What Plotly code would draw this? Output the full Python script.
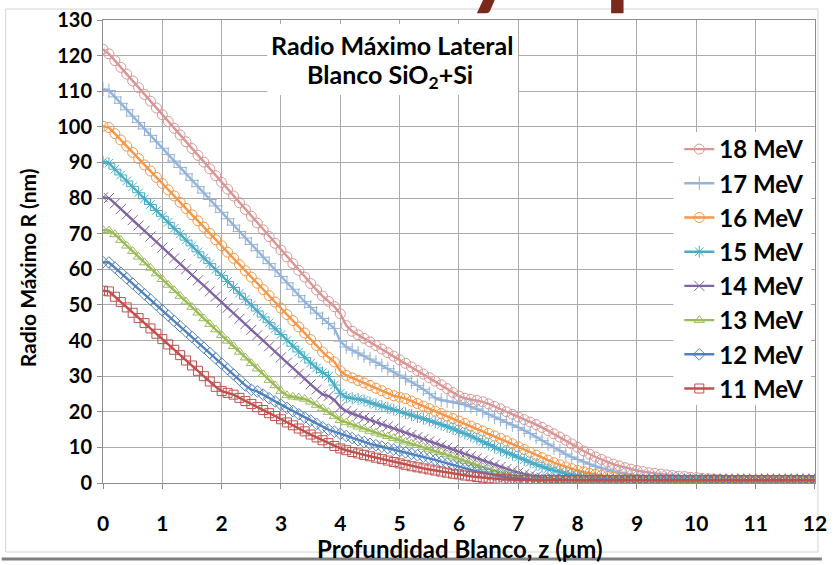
import plotly.graph_objects as go

# Depth samples (µm)
profundidad = [
    0.0, 0.1, 0.2, 0.3, 0.4, 0.5, 0.6, 0.7, 0.8, 0.9,
    1.0, 1.1, 1.2, 1.3, 1.4, 1.5, 1.6, 1.7, 1.8, 1.9,
    2.0, 2.1, 2.2, 2.3, 2.4, 2.5, 2.6, 2.7, 2.8, 2.9,
    3.0, 3.1, 3.2, 3.3, 3.4, 3.5, 3.6, 3.7, 3.8, 3.9,
    4.0, 4.1, 4.2, 4.3, 4.4, 4.5, 4.6, 4.7, 4.8, 4.9,
    5.0, 5.1, 5.2, 5.3, 5.4, 5.5, 5.6, 5.7, 5.8, 5.9,
    6.0, 6.1, 6.2, 6.3, 6.4, 6.5, 6.6, 6.7, 6.8, 6.9,
    7.0, 7.1, 7.2, 7.3, 7.4, 7.5, 7.6, 7.7, 7.8, 7.9,
    8.0, 8.1, 8.2, 8.3, 8.4, 8.5, 8.6, 8.7, 8.8, 8.9,
    9.0, 9.1, 9.2, 9.3, 9.4, 9.5, 9.6, 9.7, 9.8, 9.9,
    10.0, 10.1, 10.2, 10.3, 10.4, 10.5, 10.6, 10.7, 10.8, 10.9,
    11.0, 11.1, 11.2, 11.3, 11.4, 11.5, 11.6, 11.7, 11.8, 11.9,
    12.0,
]

# Maximum lateral radius R (nm) for each beam energy
radio_18 = [
    121.8, 120.5, 118.6, 116.7, 114.8, 112.9, 111.0, 109.1, 107.2, 105.3,
    103.4, 101.5, 99.6, 97.7, 95.8, 93.9, 92.0, 90.1, 88.2, 86.3,
    84.4, 82.5, 80.6, 78.7, 76.8, 74.9, 73.0, 71.1, 69.2, 67.3,
    65.4, 63.5, 61.6, 59.7, 57.8, 56.0, 54.2, 52.5, 51.0, 49.5,
    47.5, 44.2, 42.6, 41.6, 40.6, 39.6, 38.6, 37.6, 36.6, 35.6,
    34.6, 33.6, 32.6, 31.6, 30.6, 29.6, 28.6, 27.6, 26.5, 25.4,
    24.4, 23.8, 23.5, 23.2, 22.8, 22.2, 21.5, 20.8, 20.0, 19.3,
    18.5, 17.8, 17.1, 16.4, 15.6, 14.7, 13.8, 12.9, 12.0, 11.0,
    10.0, 9.0, 8.1, 7.3, 6.6, 5.9, 5.3, 4.8, 4.3, 3.9,
    3.5, 3.2, 2.9, 2.7, 2.5, 2.3, 2.1, 1.9, 1.8, 1.6,
    1.5, 1.3, 1.2, 1.1, 1.0, 0.9, 0.8, 0.8, 0.8, 0.8,
    0.8, 0.8, 0.8, 0.8, 0.8, 0.8, 0.8, 0.8, 0.8, 0.8,
    0.8,
]
radio_17 = [
    110.6, 110.2, 108.4, 106.6, 104.8, 103.0, 101.2, 99.4, 97.6, 95.8,
    94.0, 92.2, 90.4, 88.6, 86.8, 85.0, 83.2, 81.4, 79.6, 77.8,
    76.0, 74.2, 72.4, 70.6, 68.8, 67.0, 65.2, 63.4, 61.6, 59.8,
    58.0, 56.2, 54.4, 52.6, 50.9, 49.3, 47.7, 46.2, 44.8, 43.4,
    39.8, 38.2, 37.3, 36.5, 35.7, 34.8, 33.9, 33.0, 32.1, 31.2,
    30.3, 29.4, 28.4, 27.4, 26.3, 25.1, 23.9, 23.3, 23.0, 22.8,
    22.5, 22.0, 21.4, 20.8, 20.1, 19.3, 18.5, 17.8, 17.0, 16.3,
    15.6, 14.8, 13.9, 12.9, 11.9, 10.9, 9.9, 9.0, 8.1, 7.3,
    6.6, 5.9, 5.3, 4.7, 4.2, 3.7, 3.3, 2.9, 2.6, 2.3,
    2.0, 1.8, 1.6, 1.4, 1.3, 1.2, 1.1, 1.0, 0.9, 0.8,
    0.8, 0.8, 0.8, 0.8, 0.8, 0.8, 0.8, 0.8, 0.8, 0.8,
    0.8, 0.8, 0.8, 0.8, 0.8, 0.8, 0.8, 0.8, 0.8, 0.8,
    0.8,
]
radio_16 = [
    100.2, 99.8, 98.1, 96.3, 94.6, 92.8, 91.1, 89.3, 87.6, 85.8,
    84.1, 82.3, 80.6, 78.8, 77.1, 75.3, 73.6, 71.8, 70.1, 68.3,
    66.6, 64.8, 63.1, 61.3, 59.6, 57.8, 56.1, 54.3, 52.6, 50.8,
    49.1, 47.3, 45.6, 43.8, 42.1, 40.3, 38.6, 36.8, 35.3, 34.0,
    31.5, 30.2, 29.5, 28.8, 28.1, 27.4, 26.6, 25.9, 25.1, 24.5,
    24.1, 23.7, 23.0, 22.3, 21.6, 20.9, 20.2, 19.5, 18.8, 18.1,
    17.4, 16.7, 16.0, 15.3, 14.6, 13.9, 13.2, 12.5, 11.8, 11.0,
    10.2, 9.4, 8.6, 7.8, 7.1, 6.4, 5.7, 5.1, 4.5, 4.0,
    3.5, 3.1, 2.7, 2.4, 2.1, 1.8, 1.6, 1.4, 1.2, 1.1,
    1.0, 0.9, 0.8, 0.8, 0.8, 0.8, 0.8, 0.8, 0.8, 0.8,
    0.8, 0.8, 0.8, 0.8, 0.8, 0.8, 0.8, 0.8, 0.8, 0.8,
    0.8, 0.8, 0.8, 0.8, 0.8, 0.8, 0.8, 0.8, 0.8, 0.8,
    0.8,
]
radio_15 = [
    90.2, 89.8, 88.1, 86.5, 84.8, 83.2, 81.5, 79.8, 78.2, 76.5,
    74.9, 73.2, 71.5, 69.9, 68.2, 66.6, 64.9, 63.2, 61.6, 59.9,
    58.3, 56.6, 54.9, 53.3, 51.6, 50.0, 48.3, 46.6, 45.0, 43.3,
    41.7, 40.0, 38.4, 36.8, 35.2, 33.7, 32.3, 31.0, 29.9, 27.5,
    25.2, 24.1, 23.8, 23.6, 23.2, 22.6, 22.1, 21.6, 21.1, 20.6,
    20.1, 19.6, 19.1, 18.6, 18.1, 17.6, 17.0, 16.4, 15.8, 15.2,
    14.6, 13.9, 13.2, 12.4, 11.6, 10.8, 10.0, 9.3, 8.6, 7.9,
    7.2, 6.5, 5.8, 5.2, 4.6, 4.0, 3.5, 3.1, 2.7, 2.4,
    2.1, 1.8, 1.6, 1.4, 1.2, 1.1, 1.0, 0.9, 0.8, 0.8,
    0.8, 0.8, 0.8, 0.8, 0.8, 0.8, 0.8, 0.8, 0.8, 0.8,
    0.8, 0.8, 0.8, 0.8, 0.8, 0.8, 0.8, 0.8, 0.8, 0.8,
    0.8, 0.8, 0.8, 0.8, 0.8, 0.8, 0.8, 0.8, 0.8, 0.8,
    0.8,
]
radio_14 = [
    80.2, 80.0, 78.5, 76.9, 75.4, 73.8, 72.3, 70.8, 69.2, 67.7,
    66.1, 64.6, 63.1, 61.5, 60.0, 58.4, 56.9, 55.4, 53.8, 52.3,
    50.7, 49.2, 47.7, 46.1, 44.6, 43.0, 41.5, 40.0, 38.4, 36.9,
    35.3, 33.8, 32.3, 30.7, 29.2, 27.7, 26.2, 24.9, 24.4, 23.3,
    21.3, 20.2, 19.5, 18.9, 18.3, 17.7, 17.1, 16.5, 15.9, 15.3,
    14.7, 14.1, 13.5, 12.9, 12.3, 11.7, 11.1, 10.5, 9.9, 9.3,
    8.7, 8.1, 7.5, 6.9, 6.3, 5.7, 5.1, 4.5, 3.9, 3.4,
    2.9, 2.5, 2.1, 1.8, 1.5, 1.3, 1.1, 1.0, 0.9, 0.8,
    0.8, 0.8, 0.8, 0.8, 0.8, 0.8, 0.8, 0.8, 0.8, 0.8,
    0.8, 0.8, 0.8, 0.8, 0.8, 0.8, 0.8, 0.8, 0.8, 0.8,
    0.8, 0.8, 0.8, 0.8, 0.8, 0.8, 0.8, 0.8, 0.8, 0.8,
    0.8, 0.8, 0.8, 0.8, 0.8, 0.8, 0.8, 0.8, 0.8, 0.8,
    0.8,
]
radio_13 = [
    71.0, 70.9, 69.8, 68.2, 66.6, 65.1, 63.5, 61.9, 60.4, 58.8,
    57.2, 55.6, 54.1, 52.5, 50.9, 49.4, 47.8, 46.2, 44.6, 43.1,
    41.5, 39.9, 38.4, 36.8, 35.2, 33.6, 32.1, 30.5, 28.9, 27.4,
    25.8, 24.6, 24.2, 24.0, 23.6, 22.8, 21.9, 20.9, 19.9, 18.8,
    17.6, 17.0, 16.4, 15.8, 15.2, 14.6, 14.1, 13.6, 13.1, 12.6,
    12.1, 11.6, 11.1, 10.6, 10.1, 9.6, 9.1, 8.6, 8.0, 7.4,
    6.8, 6.2, 5.6, 5.0, 4.4, 3.9, 3.4, 2.9, 2.5, 2.1,
    1.8, 1.5, 1.3, 1.1, 1.0, 0.9, 0.8, 0.8, 0.8, 0.8,
    0.8, 0.8, 0.8, 0.8, 0.8, 0.8, 0.8, 0.8, 0.8, 0.8,
    0.8, 0.8, 0.8, 0.8, 0.8, 0.8, 0.8, 0.8, 0.8, 0.8,
    0.8, 0.8, 0.8, 0.8, 0.8, 0.8, 0.8, 0.8, 0.8, 0.8,
    0.8, 0.8, 0.8, 0.8, 0.8, 0.8, 0.8, 0.8, 0.8, 0.8,
    0.8,
]
radio_12 = [
    62.0, 61.9, 60.5, 59.0, 57.5, 56.0, 54.5, 53.0, 51.5, 50.0,
    48.5, 47.0, 45.5, 44.0, 42.5, 41.0, 39.5, 38.0, 36.5, 35.0,
    33.5, 32.0, 30.5, 29.0, 27.4, 26.2, 25.7, 24.8, 23.8, 22.9,
    22.0, 21.1, 20.2, 19.3, 18.4, 17.5, 16.6, 15.7, 15.0, 14.4,
    13.8, 13.2, 12.6, 12.0, 11.5, 11.0, 10.6, 10.2, 9.8, 9.4,
    9.0, 8.6, 8.2, 7.8, 7.4, 7.0, 6.5, 6.0, 5.5, 5.0,
    4.6, 4.1, 3.7, 3.3, 2.9, 2.5, 2.2, 1.9, 1.6, 1.4,
    1.2, 1.1, 1.0, 0.9, 0.8, 0.8, 0.8, 0.8, 0.8, 0.8,
    0.8, 0.8, 0.8, 0.8, 0.8, 0.8, 0.8, 0.8, 0.8, 0.8,
    0.8, 0.8, 0.8, 0.8, 0.8, 0.8, 0.8, 0.8, 0.8, 0.8,
    0.8, 0.8, 0.8, 0.8, 0.8, 0.8, 0.8, 0.8, 0.8, 0.8,
    0.8, 0.8, 0.8, 0.8, 0.8, 0.8, 0.8, 0.8, 0.8, 0.8,
    0.8,
]
radio_11 = [
    54.0, 53.8, 52.3, 50.8, 49.3, 47.8, 46.3, 44.9, 43.4, 41.9,
    40.4, 38.9, 37.4, 35.9, 34.4, 33.0, 31.5, 30.0, 28.5, 27.0,
    25.8, 25.3, 24.8, 23.9, 23.0, 22.2, 21.3, 20.5, 19.6, 18.8,
    17.9, 17.0, 16.2, 15.3, 14.5, 13.6, 12.8, 12.0, 11.2, 10.4,
    9.7, 9.2, 8.7, 8.3, 7.9, 7.5, 7.1, 6.7, 6.3, 5.9,
    5.5, 5.1, 4.7, 4.4, 4.1, 3.8, 3.5, 3.2, 2.9, 2.6,
    2.4, 2.1, 1.9, 1.7, 1.5, 1.3, 1.2, 1.1, 1.0, 0.9,
    0.8, 0.8, 0.8, 0.8, 0.8, 0.8, 0.8, 0.8, 0.8, 0.8,
    0.8, 0.8, 0.8, 0.8, 0.8, 0.8, 0.8, 0.8, 0.8, 0.8,
    0.8, 0.8, 0.8, 0.8, 0.8, 0.8, 0.8, 0.8, 0.8, 0.8,
    0.8, 0.8, 0.8, 0.8, 0.8, 0.8, 0.8, 0.8, 0.8, 0.8,
    0.8, 0.8, 0.8, 0.8, 0.8, 0.8, 0.8, 0.8, 0.8, 0.8,
    0.8,
]

energias = ["18 MeV", "17 MeV", "16 MeV", "15 MeV", "14 MeV", "13 MeV", "12 MeV", "11 MeV"]
radios = [radio_18, radio_17, radio_16, radio_15, radio_14, radio_13, radio_12, radio_11]
colores = ["#D99694", "#95B3D7", "#F79646", "#4BACC6", "#8064A2", "#9BBB59", "#4F81BD", "#C0504D"]
simbolos = ["circle-open", "cross-thin-open", "circle-open", "asterisk-open",
            "x-thin-open", "triangle-up-open", "diamond-open", "square-open"]
tamanos = [10, 10, 10, 10, 10, 9, 9, 9]

ticks_y = [0, 10, 20, 30, 40, 50, 60, 70, 80, 90, 100, 110, 120, 130]
ticks_x = [0, 1, 2, 3, 4, 5, 6, 7, 8, 9, 10, 11, 12]

# Page geometry (pixels) and helpers to place extras in paper coordinates
W, H = 834, 565
ML, MR, MT, MB = 103, 7, 20, 82
PW = W - ML - MR
PH = H - MT - MB


def px(xp):
    return (xp - ML) / PW


def py(yp):
    return (H - MB - yp) / PH


FONT = "Lato"
GRID = "#ABABAB"

fig = go.Figure()
for nombre, r, col, sym, sz in zip(energias, radios, colores, simbolos, tamanos):
    fig.add_trace(go.Scatter(
        x=profundidad, y=r, name=nombre, legendgroup=nombre,
        mode="lines+markers",
        line=dict(color=col, width=2.4),
        marker=dict(symbol=sym, size=sz, color=col, line=dict(color=col, width=1)),
    ))

fig.update_layout(
    width=W, height=H, autosize=False,
    margin=dict(l=ML, r=MR, t=MT, b=MB, pad=0),
    paper_bgcolor="white", plot_bgcolor="white",
    showlegend=True,
    legend=dict(
        x=px(689), y=py(127), xanchor="left", yanchor="top",
        bgcolor="rgba(0,0,0,0)", borderwidth=0,
        font=dict(family=FONT, size=24, color="black", weight="bold"),
        tracegroupgap=0, itemwidth=30,
    ),
    xaxis=dict(
        range=[0, 12.0005], tickvals=ticks_x, ticktext=[str(t) for t in ticks_x],
        showgrid=True, gridcolor=GRID, gridwidth=1,
        showline=True, linecolor="#8C8C8C", linewidth=1, mirror=True,
        ticks="outside", ticklen=5, tickcolor="#8C8C8C",
        tickfont=dict(family=FONT, size=21, color="black", weight="bold"),
        ticklabelstandoff=17, ticklabeloverflow="allow", zeroline=False,
    ),
    yaxis=dict(
        range=[0, 130], tickvals=ticks_y, ticktext=[str(t) for t in ticks_y],
        showgrid=True, gridcolor=GRID, gridwidth=1,
        showline=True, linecolor="#8C8C8C", linewidth=1, mirror=True,
        ticks="outside", ticklen=5, tickcolor="#8C8C8C",
        tickfont=dict(family=FONT, size=20, color="black", weight="bold"),
        ticklabelstandoff=1, zeroline=False,
    ),
)

# Outer chart frame, slide edge, title box and legend box
fig.add_shape(type="rect", xref="paper", yref="paper",
              x0=px(4), x1=px(830), y0=py(552), y1=py(9),
              line=dict(color="#D4D4D4", width=1), fillcolor="rgba(0,0,0,0)", layer="below")
fig.add_shape(type="line", xref="paper", yref="paper",
              x0=px(0), x1=px(834), y0=py(559), y1=py(559),
              line=dict(color="#7F7F7F", width=3))
fig.add_shape(type="rect", xref="paper", yref="paper",
              x0=px(270), x1=px(525), y0=py(95), y1=py(24),
              line=dict(width=0), fillcolor="white", layer="above")
fig.add_shape(type="rect", xref="paper", yref="paper",
              x0=px(683), x1=px(823), y0=py(405), y1=py(132),
              line=dict(width=0), fillcolor="white", layer="above")

bold = dict(family=FONT, color="black", weight="bold")
fig.add_annotation(text="Radio Máximo Lateral", xref="paper", yref="paper",
                   x=px(397), y=py(45), xanchor="center", yanchor="middle",
                   showarrow=False, font=dict(size=25, **bold))
fig.add_annotation(text="Blanco SiO<sub>2</sub>+Si", xref="paper", yref="paper",
                   x=px(395), y=py(76), xanchor="center", yanchor="middle",
                   showarrow=False, font=dict(size=25, **bold))
fig.add_annotation(text="Radio Máximo R (nm)", xref="paper", yref="paper",
                   x=px(26), y=py(268), xanchor="center", yanchor="middle",
                   textangle=-90, showarrow=False, font=dict(size=21, **bold))
fig.add_annotation(text="Profundidad Blanco, z (μm)", xref="paper", yref="paper",
                   x=px(466), y=py(548), xanchor="center", yanchor="middle",
                   showarrow=False, font=dict(size=24, **bold))

# Slide heading letters running off the top edge
for letra, xc in (("y", 498), ("p", 640)):
    fig.add_annotation(text=letra, xref="paper", yref="paper",
                       x=px(xc), y=py(19), xanchor="center", yanchor="bottom",
                       showarrow=False,
                       font=dict(family=FONT, size=90, color="#7A2A1C", weight=900))

fig.write_html("out.html")
